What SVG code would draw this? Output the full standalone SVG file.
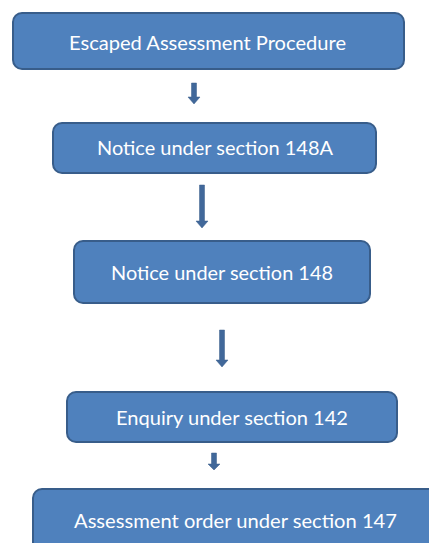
<svg xmlns="http://www.w3.org/2000/svg" width="429" height="543" viewBox="0 0 429 543">
<style>
.box{fill:#4F81BD;stroke:#385D8A;stroke-width:2}
.lbl{font-family:Lato,"Open Sans",sans-serif;font-size:19px;fill:#FFFFFF;text-anchor:middle}
.arr{fill:#41689A;stroke:#385D8A;stroke-width:0.5}
</style>
<rect width="429" height="543" fill="#FFFFFF"/>
<g id="n1"><rect class="box" x="13" y="13" width="391" height="56" rx="9"/><text class="lbl" x="207.5" y="49.5" textLength="277" lengthAdjust="spacingAndGlyphs">Escaped Assessment Procedure</text></g>
<g id="n2"><rect class="box" x="53" y="123" width="323" height="50" rx="9"/><text class="lbl" x="215" y="155" textLength="236" lengthAdjust="spacingAndGlyphs">Notice under section 148A</text></g>
<g id="n3"><rect class="box" x="74" y="241" width="296" height="62" rx="9"/><text class="lbl" x="222" y="280" textLength="222" lengthAdjust="spacingAndGlyphs">Notice under section 148</text></g>
<g id="n4"><rect class="box" x="67" y="392" width="330" height="50" rx="9"/><text class="lbl" x="232" y="425" textLength="232" lengthAdjust="spacingAndGlyphs">Enquiry under section 142</text></g>
<g id="n5"><rect class="box" x="33" y="489" width="410" height="70" rx="9"/><text class="lbl" x="235.5" y="528" textLength="323" lengthAdjust="spacingAndGlyphs">Assessment order under section 147</text></g>
<g id="connectors">
<polygon class="arr" points="191.5,83 196.5,83 196.5,97 200,97 194,104 188,97 191.5,97"/>
<polygon class="arr" points="199.5,185 204.5,185 204.5,221 208,221 202,228 196,221 199.5,221"/>
<polygon class="arr" points="219.5,330 224.5,330 224.5,360 228,360 222,367 216,360 219.5,360"/>
<polygon class="arr" points="211.5,453 216.5,453 216.5,464 220,464 214,470 208,464 211.5,464"/>
</g>
</svg>
